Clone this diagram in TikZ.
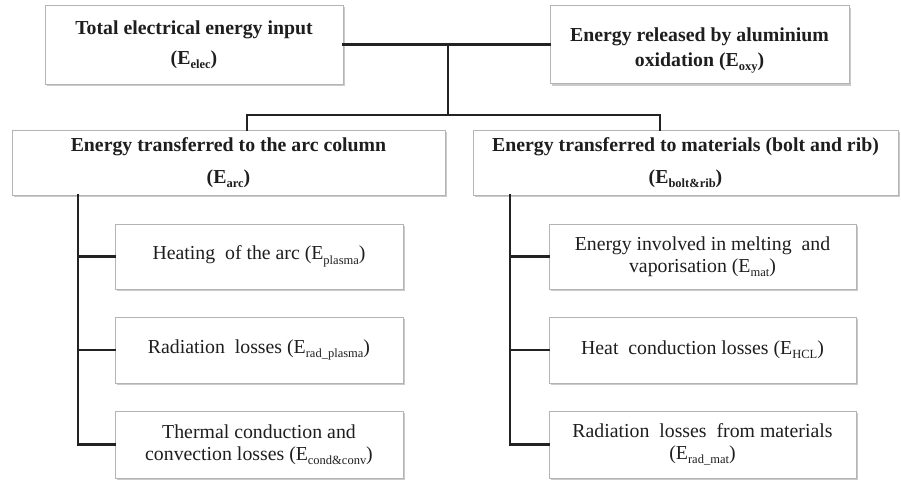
\documentclass[tikz,border=0pt]{standalone}
\usepackage{fontspec}
\setmainfont{Liberation Serif}
\usetikzlibrary{shadows}
\definecolor{txt}{HTML}{1E1E1E}
\definecolor{lin}{HTML}{222222}
\definecolor{bord}{HTML}{B4B4B4}
\newcommand{\sbs}[1]{\raisebox{-0.22em}{\fontsize{12.5}{12.5}\selectfont #1}}
\tikzset{
  box/.style={draw=bord, line width=0.9pt, fill=white, text=txt, align=center,
    inner sep=0pt, font=\fontsize{19.8}{22}\selectfont,
    drop shadow={shadow xshift=1.5pt, shadow yshift=-2pt, fill=black!35, opacity=0.6}},
  head/.style={box, font=\fontsize{19.8}{22}\selectfont\bfseries},
  conn/.style={draw=lin, line width=2.4pt, line cap=rect}
}
\begin{document}
\begin{tikzpicture}[x=1pt, y=-1pt]
\useasboundingbox (0,0) rectangle (901,480);
% top boxes
\node[head, minimum width=298pt, minimum height=79pt] (b1) at (194,44.5)
  {Total electrical energy input\\[8pt](E\sbs{elec})};
\node[head, minimum width=299pt, minimum height=78pt] (b2) at (699.5,44.5)
  {\rule{0pt}{26pt}Energy released by aluminium\\[3pt]oxidation (E\sbs{oxy})};
% second level
\node[head, minimum width=433pt, minimum height=65pt] (b3) at (228.5,162.5)
  {Energy transferred to the arc column\\[10pt](E\sbs{arc})};
\node[head, minimum width=425pt, minimum height=65pt] (b4) at (685.5,162.5)
  {Energy transferred to materials (bolt and rib)\\[10pt](E\sbs{bolt\&rib})};
% left children
\node[box, minimum width=288pt, minimum height=65pt] (a1) at (259,256.5)
  {Heating \ of the arc (E\sbs{plasma})};
\node[box, minimum width=288pt, minimum height=66pt] (a2) at (259,350)
  {Radiation \ losses (E\sbs{rad\_plasma})};
\node[box, minimum width=288pt, minimum height=67pt] (a3) at (259,444.5)
  {Thermal conduction and\\convection losses (E\sbs{cond\&conv})};
% right children
\node[box, minimum width=307pt, minimum height=65pt] (c1) at (702.5,256.5)
  {Energy involved in melting \ and\\vaporisation (E\sbs{mat})};
\node[box, minimum width=307pt, minimum height=66pt] (c2) at (702.5,350)
  {Heat \ conduction losses (E\sbs{HCL})};
\node[box, minimum width=307pt, minimum height=67pt] (c3) at (702.5,444.5)
  {Radiation \ losses \ from materials\\(E\sbs{rad\_mat})};
% connectors top
\coordinate (j) at (448,44.5);
\coordinate (k) at (448,115);
\coordinate (l) at (247,115);
\coordinate (r) at (660,115);
\draw[conn] (b1.east) -- (b2.west);
\draw[conn] (j) -- (k);
\draw[conn] (b3.north -| l) -- (l) -- (r) -- (b4.north -| r);
% left tree
\coordinate (lt) at (78,195);
\draw[conn] (lt) -- (a3.west -| lt) -- (a3.west);
\draw[conn] (a1.west -| lt) -- (a1.west);
\draw[conn] (a2.west -| lt) -- (a2.west);
% right tree
\coordinate (rt) at (510,195);
\draw[conn] (rt) -- (c3.west -| rt) -- (c3.west);
\draw[conn] (c1.west -| rt) -- (c1.west);
\draw[conn] (c2.west -| rt) -- (c2.west);
\end{tikzpicture}
\end{document}
